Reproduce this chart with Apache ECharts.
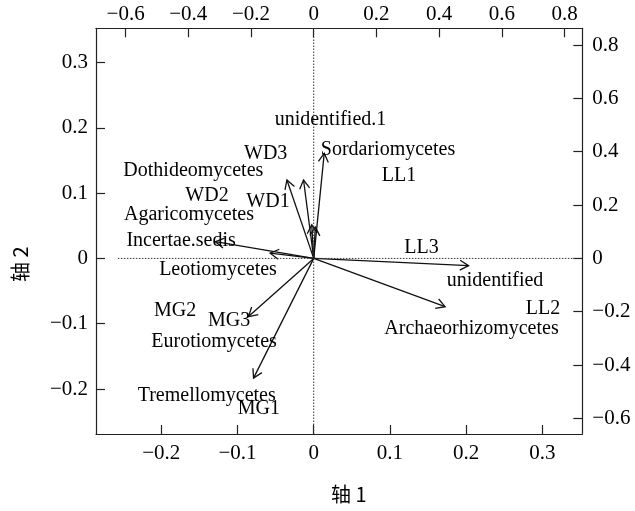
<!DOCTYPE html>
<html>
<head>
<meta charset="utf-8">
<script src="https://cdn.jsdelivr.net/npm/echarts@6/dist/echarts.min.js"></script>
<style>
html,body{margin:0;padding:0;background:#fff;}
#chart{width:635px;height:511px;}
</style>
</head>
<body>
<div id="chart"></div>
<script>
// Tick labels
const bottomTicks = [-0.2, -0.1, 0, 0.1, 0.2, 0.3];
const leftTicks = [-0.2, -0.1, 0, 0.1, 0.2, 0.3];
const topTicks = [-0.6, -0.4, -0.2, 0, 0.2, 0.4, 0.6, 0.8];
const rightTicks = [-0.6, -0.4, -0.2, 0, 0.2, 0.4, 0.6, 0.8];

// Site labels (bottom/left scale)
const siteNames = ['WD1', 'WD2', 'WD3', 'LL1', 'LL2', 'LL3', 'MG1', 'MG2', 'MG3'];
const siteX = [-0.060, -0.140, -0.063, 0.112, 0.301, 0.1415, -0.072, -0.182, -0.111];
const siteY = [0.0865, 0.0957, 0.160, 0.1263, -0.0773, 0.0168, -0.2305, -0.080, -0.0953];

// Taxon labels (bottom/left scale)
const taxonNames = ['unidentified.1', 'Sordariomycetes', 'Dothideomycetes', 'Agaricomycetes', 'Incertae.sedis',
  'Leotiomycetes', 'unidentified', 'Archaeorhizomycetes', 'Eurotiomycetes', 'Tremellomycetes'];
const taxonX = [0.022, 0.0975, -0.158, -0.1637, -0.174, -0.1256, 0.238, 0.2071, -0.1308, -0.1404];
const taxonY = [0.213, 0.166, 0.134, 0.0666, 0.0273, -0.0176, -0.0345, -0.108, -0.1274, -0.2106];

// Arrow tips (top/right scale)
const arrowX = [-0.0855, -0.0325, 0.0335, -0.0064, 0.005, -0.314, -0.139, -0.208, -0.192, 0.494, 0.419];
const arrowY = [0.294, 0.294, 0.394, 0.126, 0.118, 0.063, 0.0195, -0.218, -0.449, -0.027, -0.181];

// Reference dotted lines (bottom/left scale)
const hLineX = [-0.257, 0.3525];
const vLineY = [-0.2689, 0.3524];

const FONT = '"Liberation Serif", "Times New Roman", serif';
const fmt = v => (Math.abs(v) < 1e-9 ? '0' : String(+v.toFixed(2)).replace('-', '\u2212'));

function axisCommon(ticks, pos, margin) {
  return {
    type: 'value',
    position: pos,
    axisLine: { show: true, onZero: false, lineStyle: { color: '#222', width: 1.2 } },
    axisTick: { show: true, inside: true, length: 9, customValues: ticks, lineStyle: { color: '#222', width: 1.2 } },
    axisLabel: { show: true, customValues: ticks, formatter: fmt, color: '#000', fontSize: 21, fontFamily: FONT, margin: margin },
    splitLine: { show: false }
  };
}

const chart = echarts.init(document.getElementById('chart'), null, { renderer: 'canvas' });

const labelStyle = { show: true, position: 'inside', formatter: '{b}', color: '#000', opacity: 1, fontSize: 20, fontFamily: FONT };

chart.setOption({
  animation: false,
  backgroundColor: '#fff',
  grid: { left: 96, right: 52.7, top: 28.3, bottom: 77 },
  xAxis: [
    Object.assign(axisCommon(bottomTicks, 'bottom', 9), { min: -0.2857, max: 0.3525 }),
    Object.assign(axisCommon(topTicks, 'top', 3), { min: -0.6945, max: 0.8567 })
  ],
  yAxis: [
    Object.assign(axisCommon(leftTicks, 'left', 8), { min: -0.2689, max: 0.3524 }),
    Object.assign(axisCommon(rightTicks, 'right', 10), { min: -0.6584, max: 0.8628 })
  ],
  graphic: [
    { type: 'text', left: 331, top: 484, style: { text: '轴 1', font: '20px "Noto Sans CJK SC", ' + FONT, fill: '#000' } },
    { type: 'text', x: 10, y: 282, rotation: Math.PI / 2, style: { text: '轴 2', font: '20px "Noto Sans CJK SC", ' + FONT, fill: '#000' } }
  ],
  series: [
    {
      type: 'line', xAxisIndex: 0, yAxisIndex: 0, symbol: 'none', silent: true,
      data: hLineX.map(x => [x, 0]),
      lineStyle: { color: '#333', width: 1, type: [1.5, 1.5] }
    },
    {
      type: 'line', xAxisIndex: 0, yAxisIndex: 0, symbol: 'none', silent: true,
      data: vLineY.map(y => [0, y]),
      lineStyle: { color: '#333', width: 1, type: [1.5, 1.5] }
    },
    {
      type: 'custom', xAxisIndex: 1, yAxisIndex: 1, silent: true,
      data: arrowX.map((x, i) => [x, arrowY[i]]),
      renderItem: function (params, api) {
        const o = api.coord([0, 0]);
        const p = api.coord([api.value(0), api.value(1)]);
        const ang = Math.atan2(p[1] - o[1], p[0] - o[0]);
        const L = 10, a = Math.PI / 6;
        const h1 = [p[0] - L * Math.cos(ang - a), p[1] - L * Math.sin(ang - a)];
        const h2 = [p[0] - L * Math.cos(ang + a), p[1] - L * Math.sin(ang + a)];
        return {
          type: 'group', children: [
            { type: 'line', shape: { x1: o[0], y1: o[1], x2: p[0], y2: p[1] }, style: { stroke: '#111', lineWidth: 1.3 } },
            { type: 'polyline', shape: { points: [h1, p, h2] }, style: { stroke: '#111', fill: null, lineWidth: 1.3 } }
          ]
        };
      }
    },
    {
      type: 'scatter', xAxisIndex: 0, yAxisIndex: 0, symbolSize: 0, silent: true,
      itemStyle: { color: '#000' },
      label: labelStyle,
      data: siteNames.map((n, i) => ({ name: n, value: [siteX[i], siteY[i]] }))
    },
    {
      type: 'scatter', xAxisIndex: 0, yAxisIndex: 0, symbolSize: 0, silent: true,
      itemStyle: { color: '#000' },
      label: labelStyle,
      data: taxonNames.map((n, i) => ({ name: n, value: [taxonX[i], taxonY[i]] }))
    }
  ]
});
</script>
</body>
</html>
